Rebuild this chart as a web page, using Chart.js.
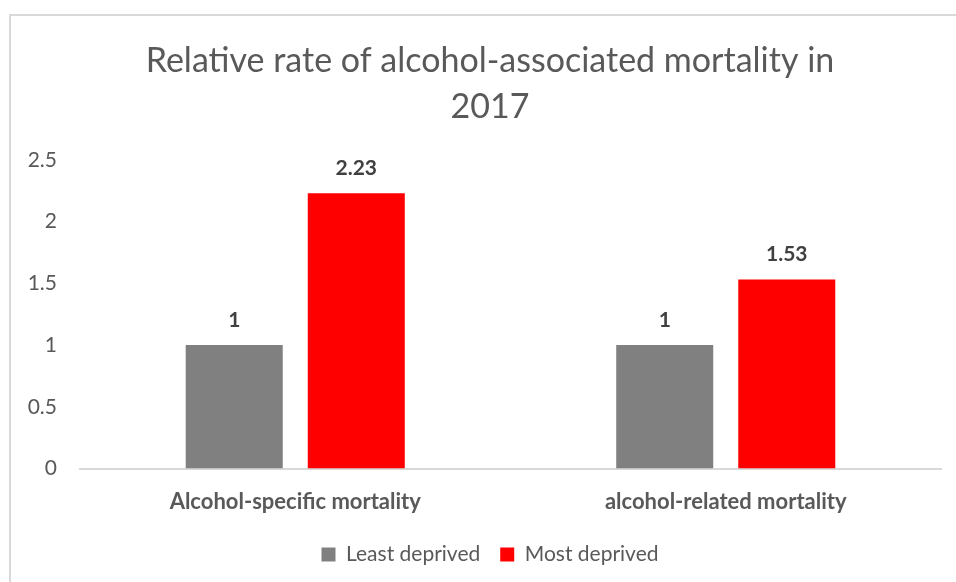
<!DOCTYPE html>
<html>
<head>
<meta charset="utf-8">
<script src="https://cdn.jsdelivr.net/npm/chart.js@4"></script>
<style>
  html, body { margin: 0; padding: 0; background: #fff; overflow: hidden; }
  .frame {
    position: absolute;
    left: 9px;
    top: 14px;
    width: 960px;
    height: 590px;
    border-left: 2px solid #d9d9d9;
    border-top: 2px solid #d9d9d9;
  }
  .frame canvas { display: block; }
</style>
</head>
<body>
<div class="frame">
  <canvas id="mortalityChart" width="958" height="567"></canvas>
</div>
<script>
const categories = ['Alcohol-specific mortality', 'alcohol-related mortality'];
const leastDeprived = [1, 1];
const mostDeprived = [2.23, 1.53];
const yTicks = [0, 0.5, 1, 1.5, 2, 2.5];

const FONT = 'Lato, "Open Sans", sans-serif';

// writes each bar's value just above it
const barValueLabels = {
  id: 'barValueLabels',
  afterDatasetsDraw(chart) {
    const ctx = chart.ctx;
    ctx.save();
    ctx.font = `bold 21px ${FONT}`;
    ctx.fillStyle = '#404040';
    ctx.textAlign = 'center';
    ctx.textBaseline = 'middle';
    chart.data.datasets.forEach((ds, i) => {
      chart.getDatasetMeta(i).data.forEach((bar, j) => {
        ctx.fillText(String(ds.data[j]), bar.x, bar.y - 25);
      });
    });
    ctx.restore();
  },
};

function renderChart() {
  const ctx = document.getElementById('mortalityChart');

  new Chart(ctx, {
    type: 'bar',
    data: {
      labels: categories,
      datasets: [
        {
          label: 'Least deprived',
          data: leastDeprived,
          backgroundColor: '#808080',
          categoryPercentage: 0.567,
          barPercentage: 0.795,
        },
        {
          label: 'Most deprived',
          data: mostDeprived,
          backgroundColor: '#ff0000',
          categoryPercentage: 0.567,
          barPercentage: 0.795,
        },
      ],
    },
    options: {
      responsive: false,
      animation: false,
      layout: { padding: { left: 0, right: 0, top: 0, bottom: 8 } },
      plugins: {
        title: {
          display: true,
          text: ['Relative rate of alcohol-associated mortality in', '2017'],
          color: '#595959',
          font: { family: FONT, size: 34, weight: 'normal', lineHeight: 1.35 },
          padding: { top: 22, bottom: 30 },
        },
        legend: {
          position: 'bottom',
          labels: {
            color: '#595959',
            font: { family: FONT, size: 21 },
            boxWidth: 14,
            boxHeight: 14,
            padding: 20,
          },
        },
        tooltip: { enabled: false },
      },
      scales: {
        x: {
          afterFit(scale) {
            // pull the legend up closer to the category labels
            scale.height -= 11;
          },
          grid: { display: false, drawTicks: false },
          border: { display: true, color: '#d9d9d9', width: 2 },
          ticks: {
            color: '#595959',
            font: { family: FONT, size: 22, weight: 'bold' },
            padding: 20,
          },
        },
        y: {
          min: 0,
          max: 2.5,
          afterBuildTicks(scale) {
            scale.ticks = yTicks.map((v) => ({ value: v }));
          },
          afterFit(scale) {
            scale.width = 69;
          },
          grid: { display: false, drawTicks: false },
          border: { display: false },
          ticks: {
            color: '#595959',
            font: { family: FONT, size: 21 },
            padding: 23,
            callback: (v) => String(v),
          },
        },
        // empty strip on the right so the plot ends before the frame edge
        spacer: {
          type: 'linear',
          position: 'right',
          display: true,
          afterFit(scale) {
            scale.width = 28;
          },
          grid: { display: false, drawTicks: false },
          border: { display: false },
          ticks: { display: false },
        },
      },
    },
    plugins: [barValueLabels],
  });
}

document.addEventListener('DOMContentLoaded', renderChart);
</script>
</body>
</html>
